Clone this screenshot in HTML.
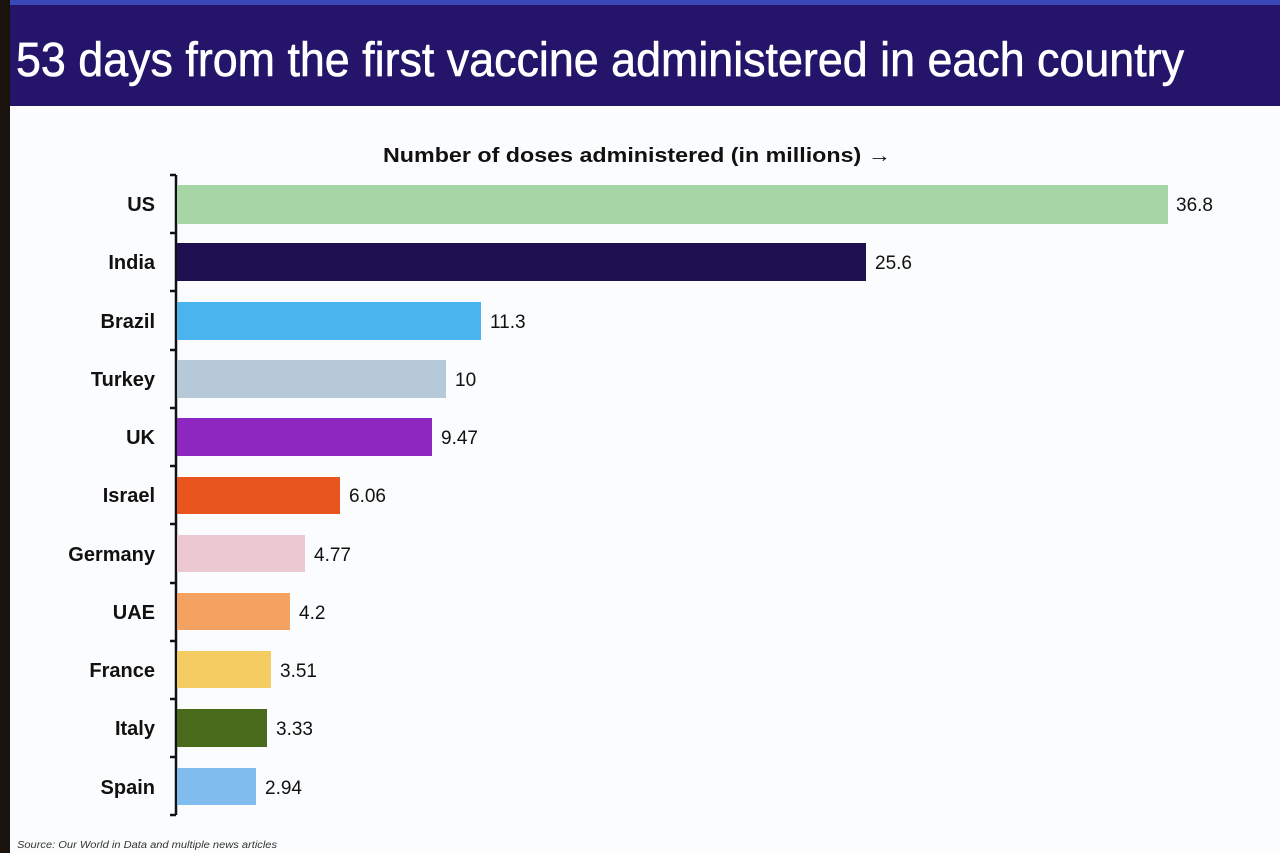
<!DOCTYPE html>
<html><head><style>html,body{margin:0;padding:0;background:#fff}svg{display:block}</style></head>
<body>
<svg width="1280" height="853" viewBox="0 0 1280 853" xmlns="http://www.w3.org/2000/svg" font-family="'Liberation Sans', sans-serif">
<rect width="1280" height="853" fill="#fbfcfd"/>
<rect x="0" y="0" width="1280" height="106" fill="#24156a"/>
<rect x="0" y="0" width="1280" height="5" fill="#3a48b8"/>
<rect x="0" y="0" width="10" height="853" fill="#1a120c"/>
<text x="16" y="76" fill="#fff" font-size="48" stroke="#fff" stroke-width="0.6" textLength="1168" lengthAdjust="spacingAndGlyphs">53 days from the first vaccine administered in each country</text>
<text x="383" y="162" fill="#111" font-size="20" font-weight="bold" textLength="508" lengthAdjust="spacingAndGlyphs">Number of doses administered (in millions) →</text>
<g stroke="#111" stroke-width="2.5" fill="none">
<line x1="176" y1="175" x2="176" y2="815"/>
<line x1="170" y1="175" x2="176" y2="175"/>
<line x1="170" y1="815" x2="176" y2="815"/>
<line x1="170" y1="233" x2="176" y2="233"/><line x1="170" y1="291" x2="176" y2="291"/><line x1="170" y1="350" x2="176" y2="350"/><line x1="170" y1="408" x2="176" y2="408"/><line x1="170" y1="466" x2="176" y2="466"/><line x1="170" y1="524" x2="176" y2="524"/><line x1="170" y1="583" x2="176" y2="583"/><line x1="170" y1="641" x2="176" y2="641"/><line x1="170" y1="699" x2="176" y2="699"/><line x1="170" y1="757" x2="176" y2="757"/>
</g>
<g font-size="20" font-weight="bold" fill="#111" text-anchor="end">
<text x="155" y="211">US</text><text x="155" y="269">India</text><text x="155" y="328">Brazil</text><text x="155" y="386">Turkey</text><text x="155" y="444">UK</text><text x="155" y="502">Israel</text><text x="155" y="561">Germany</text><text x="155" y="619">UAE</text><text x="155" y="677">France</text><text x="155" y="735">Italy</text><text x="155" y="794">Spain</text>
</g>
<g>
<rect x="177" y="185" width="991" height="39" fill="#a6d6a6"/>
<rect x="177" y="243" width="689" height="38" fill="#1e1050"/>
<rect x="177" y="302" width="304" height="38" fill="#4ab4ee"/>
<rect x="177" y="360" width="269" height="38" fill="#b6c9d8"/>
<rect x="177" y="418" width="255" height="38" fill="#8e26c0"/>
<rect x="177" y="477" width="163" height="37" fill="#e8561e"/>
<rect x="177" y="535" width="128" height="37" fill="#ecc8d2"/>
<rect x="177" y="593" width="113" height="37" fill="#f4a262"/>
<rect x="177" y="651" width="94" height="37" fill="#f4cc62"/>
<rect x="177" y="709" width="90" height="38" fill="#4a6a1c"/>
<rect x="177" y="768" width="79" height="37" fill="#80bcee"/>
</g>
<g font-size="19" fill="#111">
<text x="1176" y="211">36.8</text><text x="875" y="269">25.6</text><text x="490" y="328">11.3</text><text x="455" y="386">10</text><text x="441" y="444">9.47</text><text x="349" y="502">6.06</text><text x="314" y="561">4.77</text><text x="299" y="619">4.2</text><text x="280" y="677">3.51</text><text x="276" y="735">3.33</text><text x="265" y="794">2.94</text>
</g>
<text x="17" y="848" font-size="10" font-style="italic" fill="#333" textLength="260" lengthAdjust="spacingAndGlyphs">Source: Our World in Data and multiple news articles</text>
</svg>
</body></html>
